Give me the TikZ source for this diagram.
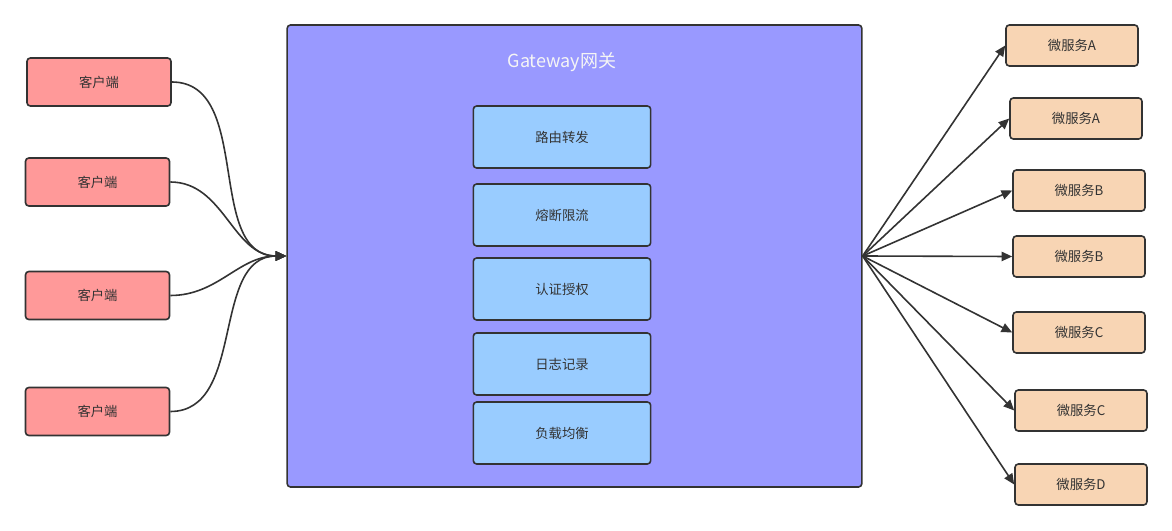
\documentclass[tikz,border=0pt]{standalone}
\usepackage{fontspec}
\setmainfont{Noto Sans CJK SC}
\usepackage{tikz}
\usetikzlibrary{arrows.meta, positioning}

\definecolor{clientred}{HTML}{FF9999}
\definecolor{gatewayblue}{HTML}{9999FF}
\definecolor{moduleblue}{HTML}{99CCFF}
\definecolor{servicepeach}{HTML}{F8D5B4}
\definecolor{edgegray}{HTML}{333333}

\begin{document}
\begin{tikzpicture}[x=0.75pt, y=-0.75pt, every node/.style={font=\fontsize{10}{12}\selectfont, text=edgegray}]
	\tikzstyle{client}=[draw=edgegray, line width=1.2pt, rounded corners=2.5pt, fill=clientred, minimum width=108pt, minimum height=36pt]
	\tikzstyle{module}=[draw=edgegray, line width=1.2pt, rounded corners=2.5pt, fill=moduleblue, minimum width=133pt, minimum height=46.5pt]
	\tikzstyle{service}=[draw=edgegray, line width=1.2pt, rounded corners=2.5pt, fill=servicepeach, minimum width=99pt, minimum height=30.75pt]
	\tikzstyle{link}=[line width=1.2pt, draw=edgegray, -{Triangle[length=8pt, width=7pt]}]
	
	\useasboundingbox (0,0) rectangle (1172,531);
	
	\node (gw) at (574.5,256) [draw=edgegray, line width=1.2pt, rounded corners=2.5pt, fill=gatewayblue, minimum width=431pt, minimum height=346.5pt] {};
	\node (gwtitle) at (562,62) [text=white!92!gray, font=\fontsize{13.5}{16}\selectfont] {Gateway网关};
	
	\node (c1) at (99,82) [client] {客户端};
	\node (c2) at (97.5,182) [client] {客户端};
	\node (c3) at (97.5,295.5) [client] {客户端};
	\node (c4) at (97.5,411.5) [client] {客户端};
	
	\node (m1) at (562,137) [module] {路由转发};
	\node (m2) at (562,215) [module] {熔断限流};
	\node (m3) at (562,289) [module] {认证授权};
	\node (m4) at (562,364) [module] {日志记录};
	\node (m5) at (562,433) [module] {负载均衡};
	
	\node (s1) at (1072,45.5) [service] {微服务A};
	\node (s2) at (1076,118.5) [service] {微服务A};
	\node (s3) at (1079,190.5) [service] {微服务B};
	\node (s4) at (1079,256.5) [service] {微服务B};
	\node (s5) at (1079,332.5) [service] {微服务C};
	\node (s6) at (1081,410.5) [service] {微服务C};
	\node (s7) at (1081,484.5) [service] {微服务D};
	
	%% clients -> gateway
	\foreach \c in {c1,c2,c3,c4}
		\draw [link] (\c.east) to[out=0, in=180] (gw.west);
	
	%% gateway -> services
	\foreach \s in {s1,s2,s3,s4,s5,s6,s7}
		\draw [link] (gw.east) -- (\s.west);
\end{tikzpicture}
\end{document}
